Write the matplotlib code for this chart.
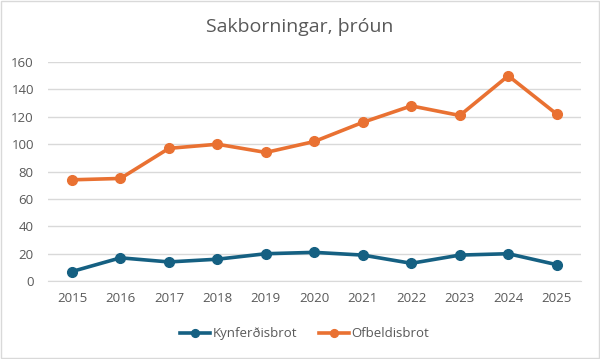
import matplotlib.pyplot as plt
from matplotlib.patches import Rectangle

years = ['2015', '2016', '2017', '2018', '2019', '2020', '2021', '2022', '2023', '2024', '2025']
kynferdisbrot = [7, 17, 14, 16, 20, 21, 19, 13, 19, 20, 12]
ofbeldisbrot = [74, 75, 97, 100, 94, 102, 116, 128, 121, 150, 122]
yticks = [0, 20, 40, 60, 80, 100, 120, 140, 160]

plt.rcParams['font.family'] = ['Open Sans', 'DejaVu Sans']
txt = '#595959'

fig = plt.figure(figsize=(6, 3.59), dpi=100)
ax = fig.add_axes([0.0796, 0.217, 0.8887, 0.61])

x = range(len(years))
ax.plot(x, kynferdisbrot, color='#156082', lw=2.6, marker='o', ms=7, label='Kynferðisbrot', zorder=3)
ax.plot(x, ofbeldisbrot, color='#E97132', lw=2.6, marker='o', ms=7, label='Ofbeldisbrot', zorder=3)

ax.set_xlim(-0.5, len(years) - 0.5)
ax.set_ylim(0, 160)
ax.set_xticks(list(x))
ax.set_xticklabels(years)
ax.set_yticks(yticks)
ax.grid(axis='y', color='#d9d9d9', lw=1)
ax.set_axisbelow(True)
for s in ['top', 'right', 'left']:
    ax.spines[s].set_visible(False)
ax.spines['bottom'].set_color('#d9d9d9')
ax.tick_params(length=0, colors=txt, labelsize=9.5, pad=8)
ax.tick_params(axis='y', pad=10)

fig.text(0.5, 0.925, 'Sakborningar, þróun', ha='center', va='center', fontsize=14, color=txt)
fig.legend(loc='center', bbox_to_anchor=(0.508, 0.07), ncol=2, frameon=False,
           fontsize=9.5, labelcolor=txt, handlelength=2.3, columnspacing=1.6,
           handletextpad=0.2, markerscale=0.8)
fig.patches.append(Rectangle((0.002, 0.003), 0.996, 0.994, transform=fig.transFigure,
                             fill=False, edgecolor='#d9d9d9', lw=1))

fig.savefig('out.png', dpi=100)
